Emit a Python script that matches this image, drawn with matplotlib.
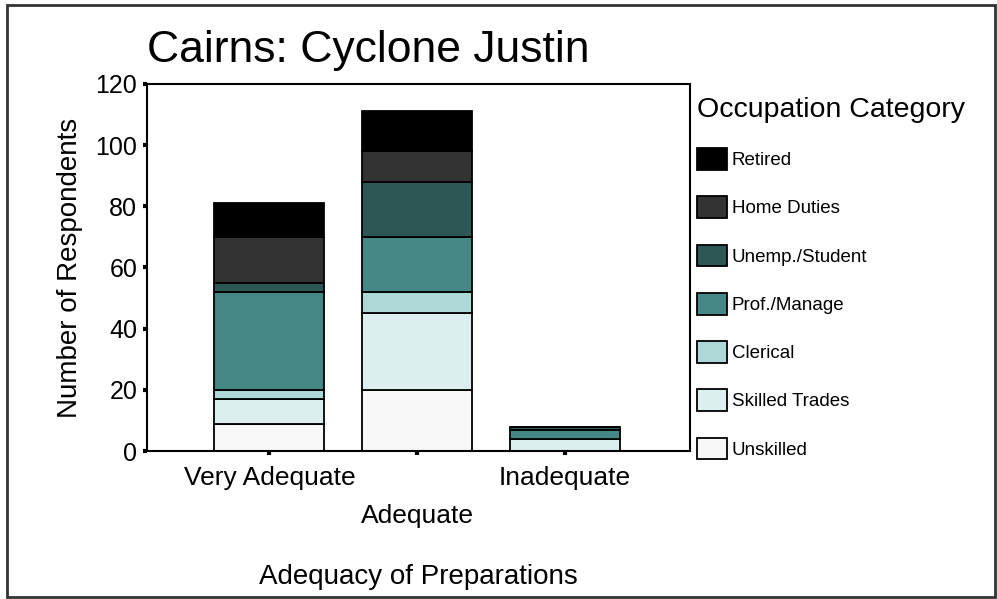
import matplotlib.pyplot as plt
import numpy as np
from matplotlib.patches import Rectangle

plt.rcParams['font.family'] = ['Liberation Sans', 'DejaVu Sans']

# data
groups = ['Very Adequate', 'Adequate', 'Inadequate']
tick_labels = ['Very Adequate', '\nAdequate', 'Inadequate']
occupations = ['Unskilled', 'Skilled Trades', 'Clerical', 'Prof./Manage',
               'Unemp./Student', 'Home Duties', 'Retired']
unskilled = [9, 20, 0]
skilled = [8, 25, 4]
clerical = [3, 7, 0]
prof = [32, 18, 3]
unemp = [3, 18, 1]
home = [15, 10, 0]
retired = [11, 13, 0]
series = [unskilled, skilled, clerical, prof, unemp, home, retired]
colors = ['#f8f8f8', '#dceeee', '#add8d7', '#448785', '#2d5755', '#333333', '#000000']

fig = plt.figure(figsize=(9.97, 5.99), dpi=100)
ax = fig.add_axes([0.1474, 0.247, 0.5447, 0.613])

x = np.arange(len(groups))
bottom = np.zeros(len(groups))
handles = []
for vals, col, name in zip(series, colors, occupations):
    b = ax.bar(x, vals, 0.745, bottom=bottom, color=col, edgecolor='black',
               linewidth=1.3, label=name)
    handles.append(b)
    bottom += np.array(vals)

ax.set_xlim(-0.828, 2.845)
ax.set_ylim(0, 120)
ax.set_yticks(range(0, 121, 20))
ax.set_xticks(x)
ax.set_xticklabels(tick_labels, fontsize=19, linespacing=1.7)
ax.tick_params(axis='y', labelsize=18, length=3, width=3, pad=4)
ax.tick_params(axis='x', length=3, width=3, pad=8)
for s in ax.spines.values():
    s.set_linewidth(1.5)

ax.set_ylabel('Number of Respondents', fontsize=20, labelpad=9)
ax.set_xlabel('Adequacy of Preparations', fontsize=20, labelpad=26)
ax.set_title('Cairns: Cyclone Justin', fontsize=32, loc='left', pad=16)

leg = ax.legend(handles[::-1], occupations[::-1], title='Occupation Category',
                loc='upper left', bbox_to_anchor=(697 / 997, 1 - 97 / 599),
                bbox_transform=fig.transFigure, frameon=False, fontsize=13.5,
                title_fontsize=20.5, handlelength=1.6, handleheight=1.4,
                handletextpad=0.25, labelspacing=1.42, borderpad=0,
                borderaxespad=0, alignment='left')
leg._legend_box.sep = 18

fig.patches.append(Rectangle((7 / 997, 2 / 599), 988 / 997, 592 / 599,
                             transform=fig.transFigure, fill=False,
                             edgecolor='#333333', linewidth=2))

fig.savefig('out.png', dpi=100)
